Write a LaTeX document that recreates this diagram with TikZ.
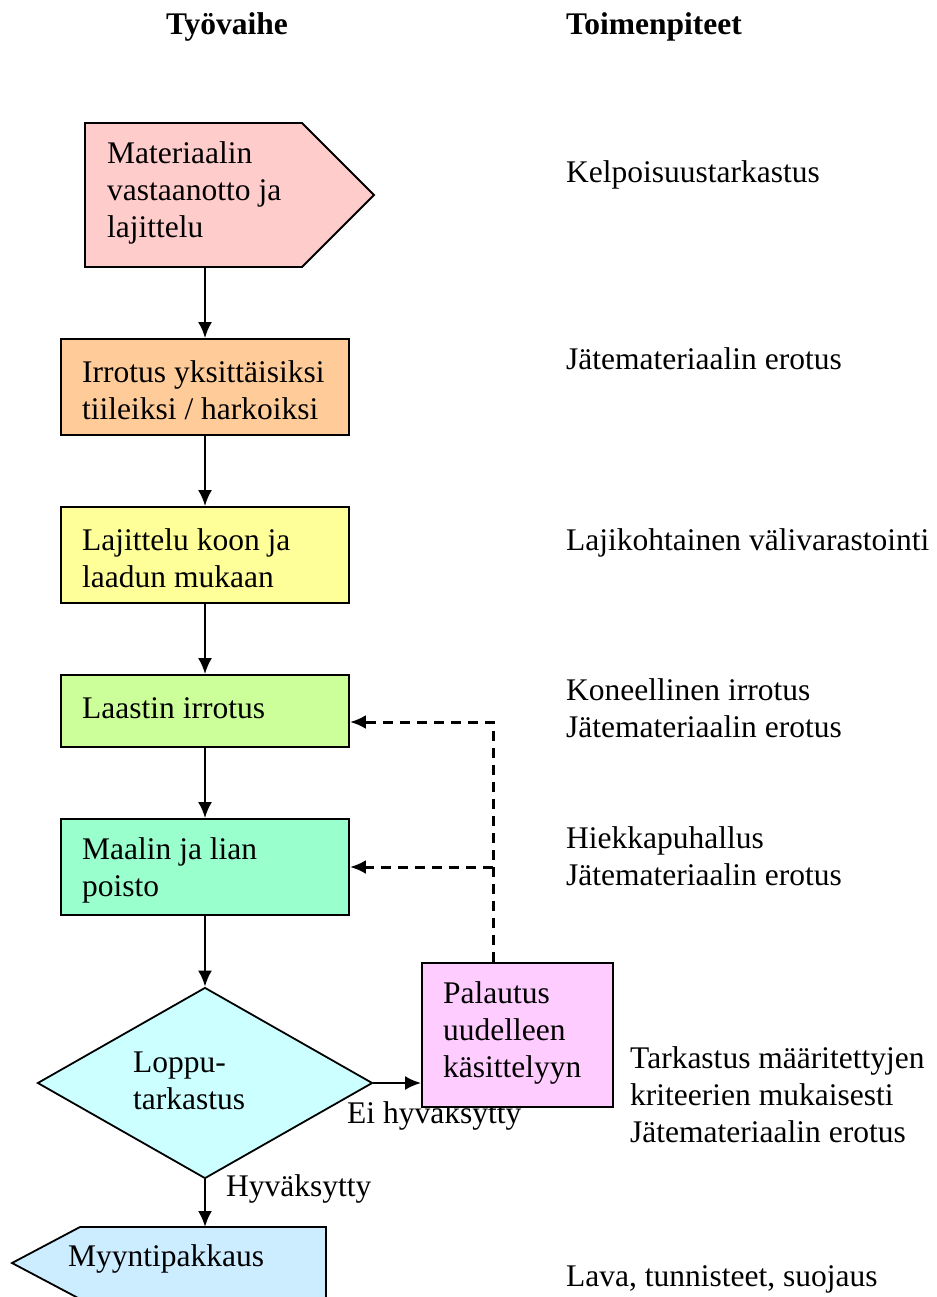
\documentclass[tikz,border=0pt]{standalone}
\usepackage{fontspec}
\setmainfont{Liberation Serif}
\usetikzlibrary{arrows.meta,shapes.geometric}
\definecolor{cA}{HTML}{FFCCCC}
\definecolor{cB}{HTML}{FFCC99}
\definecolor{cC}{HTML}{FFFF99}
\definecolor{cD}{HTML}{CCFF99}
\definecolor{cE}{HTML}{99FFCC}
\definecolor{cF}{HTML}{CCFFFF}
\definecolor{cG}{HTML}{FFCCFF}
\definecolor{cH}{HTML}{CCECFF}
\begin{document}
\begin{tikzpicture}[x=1pt,y=-1pt,
  every node/.style={font=\fontsize{31.5}{37}\selectfont, inner sep=0pt},
  box/.style={draw, line width=1.8pt},
  rbox/.style={box, rectangle, minimum width=288pt},
  txt/.style={anchor=west, align=left},
  head/.style={font=\bfseries\fontsize{31.5}{37}\selectfont},
  flow/.style={line width=2.5pt, -{Latex[length=16pt,width=14pt]}},
  back/.style={line width=3pt, dash pattern=on 10pt off 7pt, -{Latex[length=16pt,width=14pt]}}]
\clip (0,0) rectangle (936,1297);
\useasboundingbox (0,0) rectangle (936,1297);

% headers
\node[head] (h1) at (227,27) {Työvaihe};
\node[head, anchor=west] (h2) at (566,27) {Toimenpiteet};

% shapes
\draw[box, fill=cA] (85,123) -- (302,123) -- (374,195) -- (302,267) -- (85,267) -- cycle;
\coordinate (s1) at (205,267);
\node[txt] (t1) at (107,193) {Materiaalin\\vastaanotto ja\\lajittelu};

\node[rbox, fill=cB, minimum height=96pt] (s2) at (205,387) {};
\node[txt] (t2) at (82,390) {Irrotus yksittäisiksi\\tiileiksi / harkoiksi};

\node[rbox, fill=cC, minimum height=96pt] (s3) at (205,555) {};
\node[txt] (t3) at (82,558) {Lajittelu koon ja\\laadun mukaan};

\node[rbox, fill=cD, minimum height=72pt] (s4) at (205,711) {};
\node[txt] (t4) at (82,708) {Laastin irrotus};

\node[rbox, fill=cE, minimum height=96pt] (s5) at (205,867) {};
\node[txt] (t5) at (82,870) {Maalin ja lian\\poisto};

\node[diamond, box, fill=cF, aspect=1.754, minimum width=335pt, minimum height=191pt] (s6) at (205,1083) {};
\node[txt] (t6) at (133,1081) {Loppu-\\tarkastus};

% labels (under the return box)
\node[txt] (l1) at (347,1116) {Ei hyväksytty};
\node[txt] (l2) at (226,1189) {Hyväksytty};

\node[box, rectangle, fill=cG, minimum width=191pt, minimum height=144pt] (s7) at (517.5,1035) {};
\node[txt] (t7) at (443,1033) {Palautus\\uudelleen\\käsittelyyn};

\draw[box, fill=cH] (326,1227) -- (80,1227) -- (12,1263) -- (80,1299) -- (326,1299) -- cycle;
\coordinate (s8) at (205,1227);
\node[txt] (t8) at (68,1259) {Myyntipakkaus};

% flow arrows
\draw[flow] (s1) -- (s2.north);
\draw[flow] (s2.south) -- (s3.north);
\draw[flow] (s3.south) -- (s4.north);
\draw[flow] (s4.south) -- (s5.north);
\draw[flow] (s5.south) -- (s6.north);
\draw[flow] (s6.south) -- (s8);
\draw[flow] (s6.east) -- (s6.east -| s7.west);

% return (dashed)
\coordinate (j1) at (493,722);
\coordinate (j2) at (493,867);
\draw[back] (s7.north -| j1) -- (j1) -- (j1 -| s4.east);
\draw[back] (j2) -- (j2 -| s5.east);

% measures column
\node[txt] (r1) at (566,175) {Kelpoisuustarkastus};
\node[txt] (r2) at (566,359) {Jätemateriaalin erotus};
\node[txt] (r3) at (566,543) {Lajikohtainen välivarastointi};
\node[txt] (r4) at (566,708) {Koneellinen irrotus\\Jätemateriaalin erotus};
\node[txt] (r5) at (566,856) {Hiekkapuhallus\\Jätemateriaalin erotus};
\node[txt] (r6) at (630,1095) {Tarkastus määritettyjen\\kriteerien mukaisesti\\Jätemateriaalin erotus};
\node[txt] (r7) at (566,1279) {Lava, tunnisteet, suojaus};
\end{tikzpicture}
\end{document}
